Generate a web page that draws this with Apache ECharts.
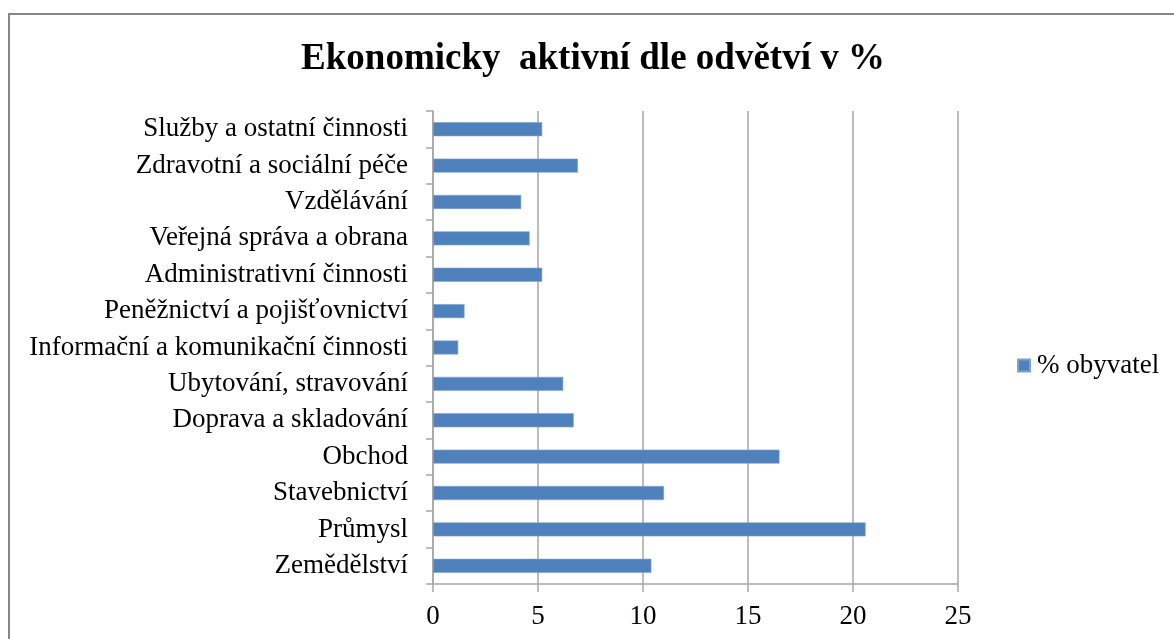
<!DOCTYPE html>
<html>
<head>
<meta charset="utf-8">
<script src="https://cdn.jsdelivr.net/npm/echarts@6/dist/echarts.min.js"></script>
<style>
html,body{margin:0;padding:0;background:#fff;}
#chart{width:1174px;height:639px;}
</style>
</head>
<body>
<div id="chart"></div>
<script>
const categories = [
  "Zemědělství",
  "Průmysl",
  "Stavebnictví",
  "Obchod",
  "Doprava a skladování",
  "Ubytování, stravování",
  "Informační a komunikační činnosti",
  "Peněžnictví a pojišťovnictví",
  "Administrativní činnosti",
  "Veřejná správa a obrana",
  "Vzdělávání",
  "Zdravotní a sociální péče",
  "Služby a ostatní činnosti"
];
const values = [10.4, 20.6, 11.0, 16.5, 6.7, 6.2, 1.2, 1.5, 5.2, 4.6, 4.2, 6.9, 5.2];
const seriesName = "% obyvatel";
const titleText = "Ekonomicky  aktivní dle odvětví v %";

const serif = "'Liberation Serif', 'DejaVu Serif', serif";
const chart = echarts.init(document.getElementById('chart'));
chart.setOption({
  backgroundColor: '#fff',
  animation: false,
  title: {
    text: titleText,
    left: 593,
    textAlign: 'center',
    top: 41,
    padding: 0,
    textStyle: {fontFamily: serif, fontWeight: 'bold', fontSize: 37, color: '#000'}
  },
  legend: {
    data: [seriesName],
    left: 1017,
    top: 352,
    padding: 0,
    icon: 'rect',
    itemWidth: 12,
    itemHeight: 12,
    itemGap: 7,
    textStyle: {fontFamily: serif, fontSize: 27, color: '#000', padding: [0,0,0,2]}
  },
  grid: {left: 433, right: 216, top: 111, bottom: 55, containLabel: false},
  xAxis: {
    type: 'value',
    min: 0, max: 25, interval: 5,
    axisLine: {show: true, lineStyle: {color: '#a6a6a6', width: 1.5}},
    axisTick: {show: true, length: 8, lineStyle: {color: '#a6a6a6', width: 1.5}},
    splitLine: {show: true, lineStyle: {color: '#a6a6a6', width: 1.5}},
    axisLabel: {fontFamily: serif, fontSize: 27, color: '#000', margin: 19}
  },
  yAxis: {
    type: 'category',
    data: categories,
    axisLine: {show: true, lineStyle: {color: '#a6a6a6', width: 1.5}},
    axisTick: {show: true, length: 7, alignWithLabel: false, lineStyle: {color: '#a6a6a6', width: 1.5}},
    axisLabel: {fontFamily: serif, fontSize: 27, color: '#000', margin: 25}
  },
  series: [{
    name: seriesName,
    type: 'bar',
    data: values,
    barWidth: 14,
    itemStyle: {color: '#4F81BD', borderColor: '#7ea2d0', borderWidth: 0.6}
  }],
  graphic: [{
    type: 'rect',
    shape: {x: 9, y: 14, width: 2000, height: 2000},
    style: {fill: 'none', stroke: '#868686', lineWidth: 2},
    silent: true
  }]
});
</script>
</body>
</html>
